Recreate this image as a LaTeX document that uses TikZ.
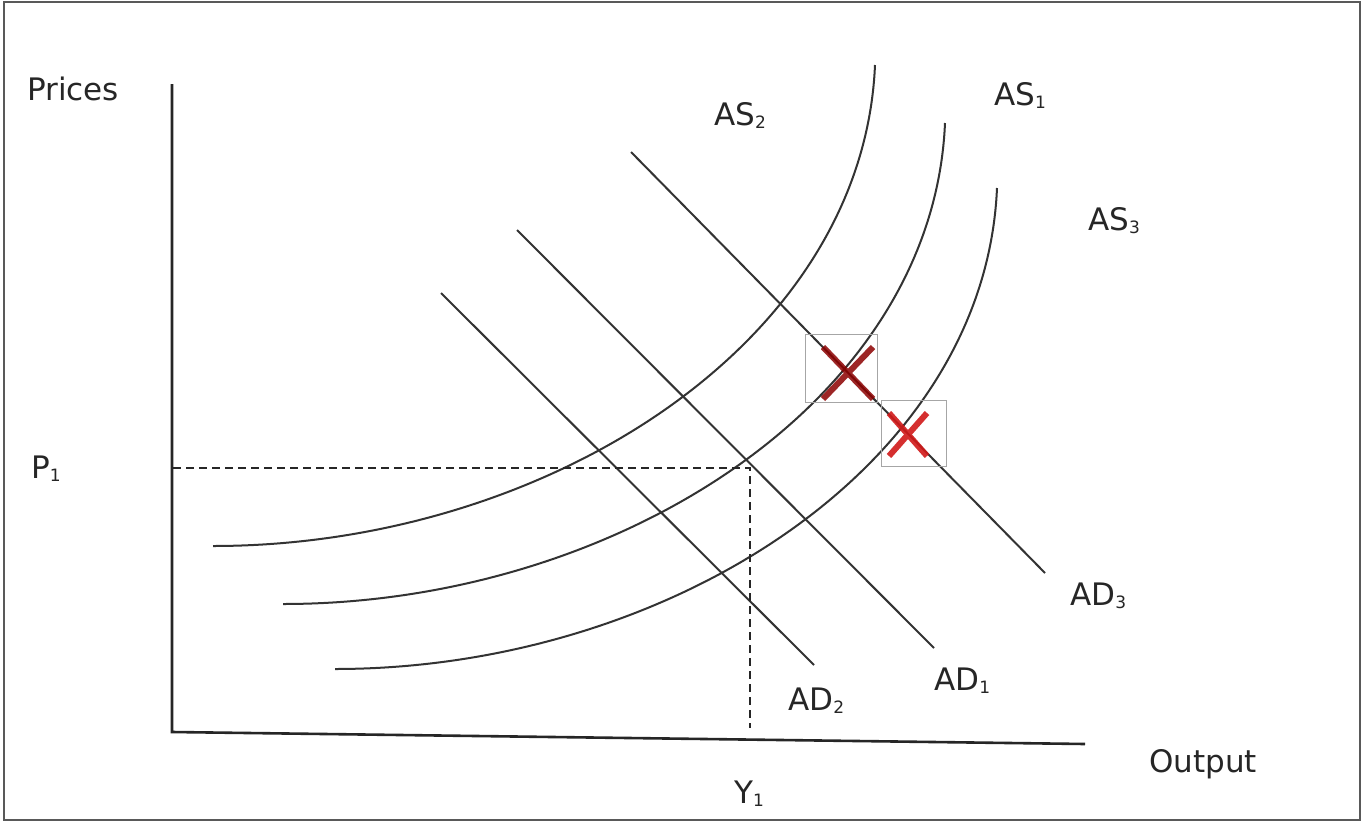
\documentclass[tikz,border=0pt]{standalone}
\usepackage{fontspec}
\setmainfont{DejaVu Sans}
\newcommand{\subdig}[1]{\raisebox{-3pt}{\fontsize{17}{17}\selectfont #1}}
\begin{document}
\begin{tikzpicture}[x=1pt,y=-1pt,
  lbl/.style={anchor=base west,inner sep=0pt,text=black!85,font=\fontsize{31}{33}\selectfont},
  curve/.style={draw=black!80,line width=2pt},
  axis/.style={draw=black!85,line width=2.6pt},
  guide/.style={draw=black!85,line width=2pt,dash pattern=on 8pt off 5pt},
  markbox/.style={draw=black!35,line width=1pt},
  cross/.style={line width=6pt}]
\useasboundingbox (0,0) rectangle (1366,822);
\fill[white] (0,0) rectangle (1366,822);
\draw[black!65,line width=2.5pt] (4,2) rectangle (1360,820);
% axes
\coordinate (O) at (172,732);
\coordinate (ytop) at (172,84);
\coordinate (xend) at (1085,744);
\draw[axis] (ytop) -- (O) -- (xend);
% AS curves
\coordinate (as2s) at (213,546); \coordinate (as2e) at (875,65);
\coordinate (as1s) at (283,604); \coordinate (as1e) at (945,123);
\coordinate (as3s) at (335,669); \coordinate (as3e) at (997,188);
\draw[curve] (as2s) .. controls (543,546) and (863,346) .. (as2e);
\draw[curve] (as1s) .. controls (613,604) and (933,404) .. (as1e);
\draw[curve] (as3s) .. controls (665,669) and (985,469) .. (as3e);
% AD lines
\coordinate (ad2s) at (441,293); \coordinate (ad2e) at (814,665);
\coordinate (ad1s) at (517,230); \coordinate (ad1e) at (934,648);
\coordinate (ad3s) at (631,152); \coordinate (ad3e) at (1045,573);
\draw[curve] (ad2s) -- (ad2e);
\draw[curve] (ad1s) -- (ad1e);
\draw[curve] (ad3s) -- (ad3e);
% guides
\coordinate (p1) at (173,468);
\coordinate (E) at (750,468);
\coordinate (y1) at (750,728);
\draw[guide] (p1) -- (E) -- (y1);
% marks
\draw[markbox] (805,334) rectangle (877,402);
\draw[markbox] (881,400) rectangle (946,466);
\draw[cross,draw=red!55!black,opacity=0.85] (823,347) -- (873,399) (823,399) -- (873,347);
\draw[cross,draw=red!80!black!90,opacity=0.9] (889,413) -- (927,456) (889,456) -- (927,413);
% labels
\node[lbl] (prices) at (27,100) {Prices};
\node[lbl] (P1) at (31,478) {P\subdig{1}};
\node[lbl] (AS2) at (714,125) {AS\subdig{2}};
\node[lbl] (AS1) at (994,105) {AS\subdig{1}};
\node[lbl] (AS3) at (1088,230) {AS\subdig{3}};
\node[lbl] (AD3) at (1070,605) {AD\subdig{3}};
\node[lbl] (AD1) at (934,690) {AD\subdig{1}};
\node[lbl] (AD2) at (788,710) {AD\subdig{2}};
\node[lbl] (Y1) at (734,803) {Y\subdig{1}};
\node[lbl] (output) at (1149,772) {Output};
\end{tikzpicture}
\end{document}
